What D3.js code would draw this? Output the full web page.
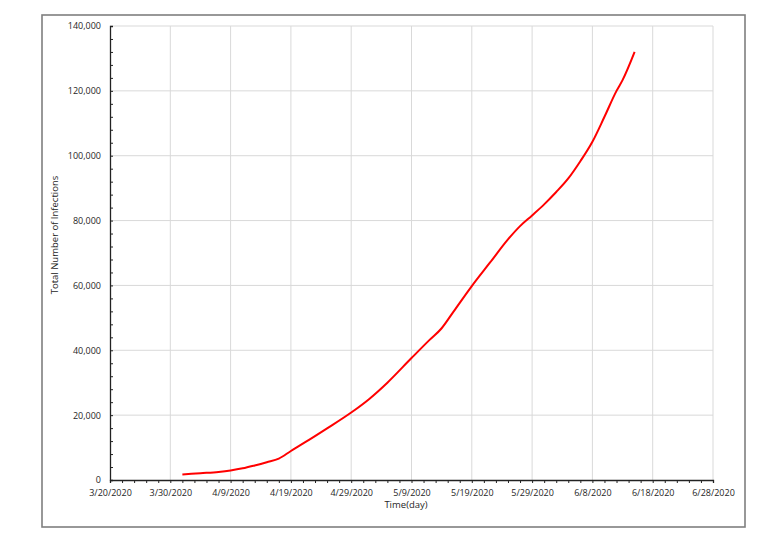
<!DOCTYPE html>
<html>
<head>
<meta charset="utf-8">
<script src="https://cdn.jsdelivr.net/npm/d3@7"></script>
<style>
  html, body { margin: 0; padding: 0; background: #fff; }
  svg { display: block; }
  text { font-family: "Open Sans", "Liberation Sans", sans-serif; fill: #262626; }
</style>
</head>
<body>
<svg id="chart" width="764" height="541"></svg>
<script>
// ---- data ----
const dates = [
  "2020-04-01","2020-04-04","2020-04-07","2020-04-09","2020-04-11","2020-04-13",
  "2020-04-15","2020-04-17","2020-04-19","2020-04-22","2020-04-25",
  "2020-04-29","2020-05-02","2020-05-05","2020-05-09","2020-05-12","2020-05-14",
  "2020-05-16","2020-05-19","2020-05-22","2020-05-25","2020-05-27",
  "2020-05-29","2020-05-31","2020-06-02","2020-06-04","2020-06-06","2020-06-08",
  "2020-06-10","2020-06-12","2020-06-13","2020-06-15"
];
const infections = [
  1700, 2100, 2500, 2950, 3600, 4500,
  5500, 6600, 8950, 12350, 15900,
  20800, 25000, 30000, 37600, 43200, 46800,
  52000, 59800, 67000, 74200, 78300,
  81600, 85000, 88800, 93000, 98300, 104300,
  112000, 120000, 123300, 132000
];
const xTickLabels = ["3/20/2020","3/30/2020","4/9/2020","4/19/2020","4/29/2020","5/9/2020","5/19/2020","5/29/2020","6/8/2020","6/18/2020","6/28/2020"];
const yTickValues = [0, 20000, 40000, 60000, 80000, 100000, 120000, 140000];
const xTitle = "Time(day)";
const yTitle = "Total Number of Infections";

(function () {
// ---- layout ----
const svg = d3.select("#chart");
const pLeft = 110, pRight = 713, pTop = 26, pBottom = 480;

const parse = d3.utcParse("%Y-%m-%d");
const xStart = parse("2020-03-20"), xEnd = parse("2020-06-28");
const x = d3.scaleUtc().domain([xStart, xEnd]).range([pLeft, pRight]);
const y = d3.scaleLinear().domain([0, 140000]).range([pBottom, pTop]);

const xTickDates = xTickLabels.map(s => { const [m, d, yy] = s.split("/").map(Number); return new Date(Date.UTC(yy, m - 1, d)); });
const xMinor = d3.range(0, 101, 2).map(k => d3.utcDay.offset(xStart, k));
const yMinor = d3.range(0, 140001, 4000);

// outer border
svg.append("rect").attr("x", 42).attr("y", 15).attr("width", 703).attr("height", 512)
  .attr("fill", "none").attr("stroke", "#7f7f7f").attr("stroke-width", 1.6);

// gridlines
const grid = svg.append("g").attr("stroke", "#d9d9d9").attr("stroke-width", 1);
grid.selectAll("line.v").data(xTickDates.slice(1)).join("line").attr("class", "v")
  .attr("x1", d => x(d)).attr("x2", d => x(d)).attr("y1", pTop).attr("y2", pBottom);
grid.selectAll("line.h").data(yTickValues.slice(1)).join("line").attr("class", "h")
  .attr("x1", pLeft).attr("x2", pRight).attr("y1", d => y(d)).attr("y2", d => y(d));

// line
const line = d3.line()
  .x((d, i) => x(parse(dates[i])))
  .y(d => y(d))
  .curve(d3.curveMonotoneX);
svg.append("path").datum(infections).attr("d", line)
  .attr("fill", "none").attr("stroke", "#ff0000").attr("stroke-width", 2).attr("stroke-linejoin", "round");

// x axis
const xAxisG = svg.append("g").attr("transform", `translate(0,${pBottom})`)
  .call(d3.axisBottom(x).tickValues(xMinor).tickSize(3).tickFormat(""));
xAxisG.select(".domain").attr("stroke", "#222").attr("stroke-width", 1.3);
xAxisG.selectAll(".tick line").attr("stroke", "#222");
const xLab = svg.append("g").attr("transform", `translate(0,${pBottom})`)
  .call(d3.axisBottom(x).tickValues(xTickDates).tickSize(0).tickPadding(9.5)
    .tickFormat((d, i) => xTickLabels[i]));
xLab.select(".domain").remove();
xLab.selectAll("text").attr("font-size", 9).attr("font-family", "'Open Sans', sans-serif").attr("fill", "#262626");

// y axis
const yAxisG = svg.append("g").attr("transform", `translate(${pLeft},0)`)
  .call(d3.axisRight(y).tickValues(yMinor).tickSize(3).tickFormat(""));
yAxisG.select(".domain").attr("stroke", "#222").attr("stroke-width", 1.3);
yAxisG.selectAll(".tick line").attr("stroke", "#222");
const yLab = svg.append("g").attr("transform", `translate(${pLeft},0)`)
  .call(d3.axisLeft(y).tickValues(yTickValues).tickSize(0).tickPadding(9).tickFormat(d3.format(",")));
yLab.select(".domain").remove();
yLab.selectAll("text").attr("font-size", 9).attr("font-family", "'Open Sans', sans-serif").attr("fill", "#262626");

// axis titles
svg.append("text").attr("x", 406).attr("y", 508).attr("text-anchor", "middle")
  .attr("font-size", 9.5).text(xTitle);
svg.append("text").attr("transform", "translate(58,235) rotate(-90)").attr("text-anchor", "middle")
  .attr("font-size", 9.5).text(yTitle);
})();
</script>
</body>
</html>
